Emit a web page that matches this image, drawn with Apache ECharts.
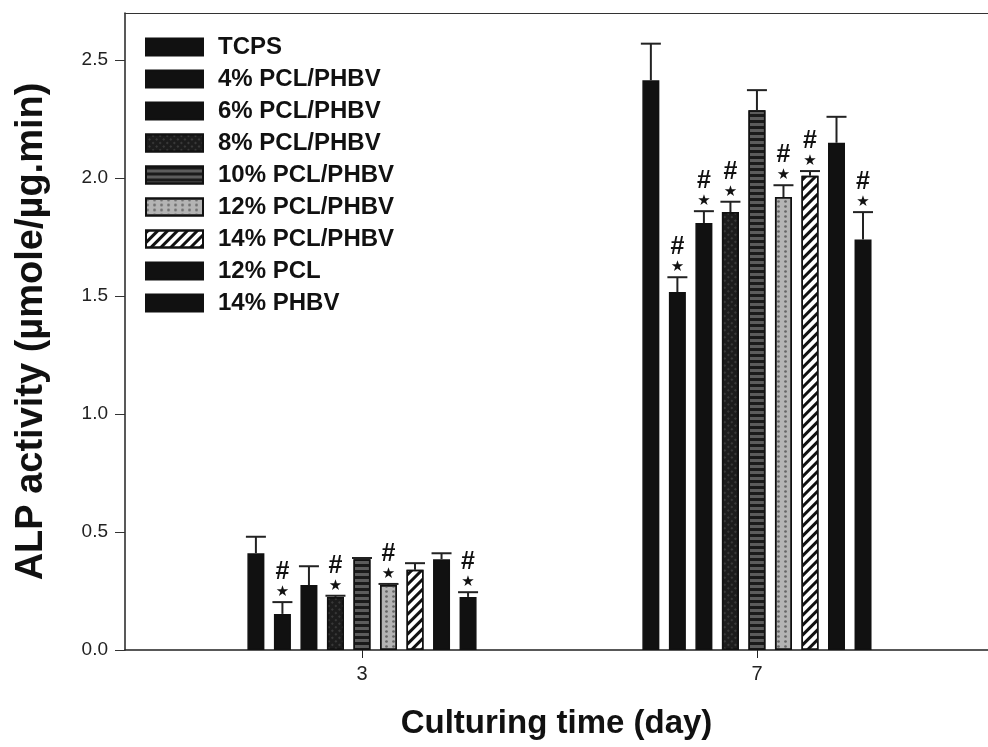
<!DOCTYPE html>
<html>
<head>
<meta charset="utf-8">
<script src="https://cdn.jsdelivr.net/npm/echarts@6/dist/echarts.min.js"></script>
<style>
  html, body { margin: 0; padding: 0; background: #fff; }
  #chart { width: 988px; height: 747px; }
</style>
</head>
<body>
<div id="chart"></div>
<script>
// data
const days = [3, 7];
const groups = ['TCPS', '4% PCL/PHBV', '6% PCL/PHBV', '8% PCL/PHBV', '10% PCL/PHBV',
  '12% PCL/PHBV', '14% PCL/PHBV', '12% PCL', '14% PHBV'];
const day3Mean = [0.41, 0.153, 0.275, 0.225, 0.385, 0.275, 0.34, 0.385, 0.225];
const day3Err = [0.07, 0.05, 0.08, 0.005, 0.005, 0.005, 0.028, 0.025, 0.02];
const day7Mean = [2.415, 1.517, 1.81, 1.856, 2.288, 1.92, 2.01, 2.15, 1.74];
const day7Err = [0.155, 0.063, 0.05, 0.044, 0.085, 0.05, 0.02, 0.11, 0.116];
// 1 = marked with # and *
const day3Sig = [0, 1, 0, 1, 0, 1, 0, 0, 1];
const day7Sig = [0, 1, 1, 1, 0, 1, 1, 0, 1];
const yTicks = [0, 0.5, 1.0, 1.5, 2.0, 2.5];

const font = "'Liberation Sans', Arial, Helvetica, sans-serif";
const barW = 17;
const gapRatio = 0.56;
const pitch = barW * (1 + gapRatio);

const styles = [
  { color: '#111' },
  { color: '#111' },
  { color: '#111' },
  { color: '#1c1c1c', decal: { symbol: 'rect', symbolSize: 0.7, color: '#555', dashArrayX: [[2, 3]], dashArrayY: [2, 3], rotation: Math.PI / 4 } },
  { color: '#5c5c5c', decal: { symbol: 'rect', color: '#1a1a1a', dashArrayX: [1, 0], dashArrayY: [3, 3], rotation: 0 } },
  { color: '#b4b4b4', decal: { symbol: 'circle', symbolSize: 0.9, color: '#666', dashArrayX: [[3, 4]], dashArrayY: [3, 2] } },
  { color: '#fff', decal: { symbol: 'rect', color: '#111', dashArrayX: [1, 0], dashArrayY: [3, 4], rotation: -Math.PI / 4 } },
  { color: '#111' },
  { color: '#111' }
];

const barSeries = groups.map(function (name, i) {
  return {
    name: name,
    type: 'bar',
    barWidth: barW,
    barGap: (gapRatio * 100) + '%',
    itemStyle: Object.assign({ borderColor: '#111', borderWidth: 1.5 }, styles[i]),
    data: [[days[0], day3Mean[i]], [days[1], day7Mean[i]]]
  };
});

const errData = [];
groups.forEach(function (g, i) {
  errData.push([days[0], i, day3Mean[i], day3Err[i], day3Sig[i]]);
  errData.push([days[1], i, day7Mean[i], day7Err[i], day7Sig[i]]);
});

const errSeries = {
  type: 'custom',
  z: 5,
  silent: true,
  data: errData,
  renderItem: function (params, api) {
    const day = api.value(0), idx = api.value(1), m = api.value(2), e = api.value(3), sig = api.value(4);
    const base = api.coord([day, m]);
    const x = base[0] + (idx - (groups.length - 1) / 2) * pitch;
    const yTop = api.coord([day, m + e])[1];
    const kids = [
      { type: 'line', shape: { x1: x, y1: base[1], x2: x, y2: yTop }, style: { stroke: '#222', lineWidth: 2 } },
      { type: 'line', shape: { x1: x - 10, y1: yTop, x2: x + 10, y2: yTop }, style: { stroke: '#222', lineWidth: 2 } }
    ];
    if (sig) {
      kids.push({ type: 'text', style: { text: '★', x: x, y: yTop - 10, align: 'center', verticalAlign: 'middle', fontSize: 15, fill: '#111', fontFamily: 'DejaVu Sans' } });
      kids.push({ type: 'text', style: { text: '#', x: x, y: yTop - 30, align: 'center', verticalAlign: 'middle', fontSize: 25, fontWeight: 'bold', fill: '#111', fontFamily: font } });
    }
    return { type: 'group', children: kids };
  }
};

const chart = echarts.init(document.getElementById('chart'));
chart.setOption({
  animation: false,
  backgroundColor: '#fff',
  grid: { left: 125, top: 13, right: 0, bottom: 97 },
  legend: {
    orient: 'vertical',
    left: 145, top: 35,
    padding: 0,
    itemWidth: 57, itemHeight: 17, itemGap: 8,
    icon: 'rect',
    selectedMode: false,
    textStyle: { fontFamily: font, fontSize: 24, fontWeight: 'bold', color: '#111', padding: [0, 0, 0, 10] },
    data: groups
  },
  xAxis: [{
    type: 'value',
    min: 0.6, max: 9.34,
    name: 'Culturing time (day)',
    nameLocation: 'middle',
    nameGap: 57,
    nameTextStyle: { fontFamily: font, fontSize: 33, fontWeight: 'bold', color: '#111' },
    axisLine: { lineStyle: { color: '#222', width: 1.5 } },
    axisTick: { customValues: days, length: 8, lineStyle: { color: '#222' } },
    axisLabel: { customValues: days, fontFamily: font, fontSize: 20, color: '#222', margin: 14 },
    splitLine: { show: false }
  }, {
    // top frame line
    type: 'value',
    position: 'top',
    min: 0.6, max: 9.34,
    axisLine: { show: true, lineStyle: { color: '#333', width: 1.2 } },
    axisTick: { show: false },
    axisLabel: { show: false },
    splitLine: { show: false }
  }],
  yAxis: {
    type: 'value',
    min: 0, max: 2.7,
    name: 'ALP activity (µmole/µg.min)',
    nameLocation: 'middle',
    nameGap: 74,
    nameTextStyle: { fontFamily: font, fontSize: 38, fontWeight: 'bold', color: '#111' },
    axisLine: { show: true, lineStyle: { color: '#222', width: 1.5 } },
    axisTick: { show: true, customValues: yTicks, length: 10, lineStyle: { color: '#333' } },
    axisLabel: {
      customValues: yTicks, fontFamily: font, fontSize: 19, color: '#222', margin: 17,
      formatter: function (v) { return v.toFixed(1); }
    },
    splitLine: { show: false }
  },
  series: barSeries.concat([errSeries])
});
</script>
</body>
</html>
